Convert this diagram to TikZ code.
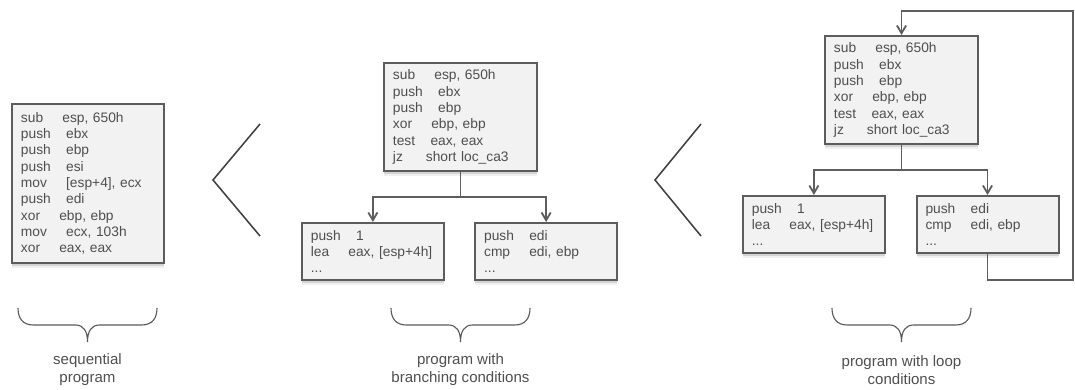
\documentclass[tikz,border=0pt]{standalone}
\usepackage{fontspec}
\setmainfont{Liberation Sans}
\usetikzlibrary{positioning, arrows.meta, shadows}
\definecolor{boxColor}{HTML}{F2F2F2}
\definecolor{boxBorder}{HTML}{5C5C5C}
\definecolor{codeColor}{HTML}{4F4F4F}
\definecolor{lineColor}{HTML}{5E5E5E}

% opcode, a few blanks, operands
\newcommand{\ins}[3]{#2\hspace{#1\fontdimen2\font}#3}
% curly bracket opening upwards, centred on #1
\newcommand{\curly}[1]{%
    \draw[bracket] ({#1-69.5},308) .. controls ({#1-69.5},318) and ({#1-65},325) .. ({#1-54},325)
        -- ({#1-12},325) .. controls ({#1-4},325) and (#1,331) .. (#1,342)
        .. controls (#1,331) and ({#1+4},325) .. ({#1+12},325)
        -- ({#1+54},325) .. controls ({#1+65},325) and ({#1+69.5},318) .. ({#1+69.5},308);}

\begin{document}
\begin{tikzpicture}[
    x=0.025cm, y=-0.025cm,
    every node/.style={text=codeColor},
    codebox/.style={
        draw=boxBorder,
        fill=boxColor,
        line width=1.4pt,
        inner xsep=0.225cm,
        inner ysep=0pt,
        align=left,
        font=\fontsize{9.8}{11.6}\selectfont,
        drop shadow={shadow xshift=0pt, shadow yshift=-3.5pt, opacity=0.12},
        drop shadow={shadow xshift=0pt, shadow yshift=-2pt, opacity=0.25},
    },
    topblock/.style={codebox, text width=3.375cm, minimum height=2.7cm},
    lowblock/.style={codebox, text width=3.1cm, minimum height=1.425cm},
    link/.style={line width=1.3pt, draw=lineColor},
    flow/.style={link, -{Straight Barb[length=5.5pt, width=6.5pt]}},
    chevron/.style={line width=1.1pt, draw=black!75},
    bracket/.style={line width=0.8pt, draw=black!65},
    caption/.style={align=center, font=\fontsize{10.7}{12.8}\selectfont},
]
\useasboundingbox (0,0) rectangle (1075,389);

% straight-line code
\node[codebox, text width=3.35cm, minimum height=3.975cm] (seq) at (88,183.5) {
    \ins{5}{sub}{esp, 650h}\\
    \ins{4}{push}{ebx}\\
    \ins{4}{push}{ebp}\\
    \ins{4}{push}{esi}\\
    \ins{5}{mov}{[esp+4], ecx}\\
    \ins{4}{push}{edi}\\
    \ins{5}{xor}{ebp, ebp}\\
    \ins{5}{mov}{ecx, 103h}\\
    \ins{5}{xor}{eax, eax}
};

% code with a branch
\node[topblock] (brTop) at (460.5,117) {
    \ins{5}{sub}{esp, 650h}\\
    \ins{4}{push}{ebx}\\
    \ins{4}{push}{ebp}\\
    \ins{5}{xor}{ebp, ebp}\\
    \ins{4}{test}{eax, eax}\\
    \ins{6}{jz}{short loc\_ca3}
};

\node[lowblock, below=1.25cm of brTop, xshift=-2.19cm] (brLeft) {
    \ins{4}{push}{1}\\
    \ins{5}{lea}{eax, [esp+4h]}\\
    ...
};

\node[lowblock, below=1.25cm of brTop, xshift=2.14cm] (brRight) {
    \ins{4}{push}{edi}\\
    \ins{5}{cmp}{edi, ebp}\\
    ...
};

% code with a loop
\node[topblock] (lpTop) at (901.5,90) {
    \ins{5}{sub}{esp, 650h}\\
    \ins{4}{push}{ebx}\\
    \ins{4}{push}{ebp}\\
    \ins{5}{xor}{ebp, ebp}\\
    \ins{4}{test}{eax, eax}\\
    \ins{6}{jz}{short loc\_ca3}
};

\node[lowblock, below=1.25cm of lpTop, xshift=-2.19cm] (lpLeft) {
    \ins{4}{push}{1}\\
    \ins{5}{lea}{eax, [esp+4h]}\\
    ...
};

\node[lowblock, below=1.25cm of lpTop, xshift=2.15cm] (lpRight) {
    \ins{4}{push}{edi}\\
    \ins{5}{cmp}{edi, ebp}\\
    ...
};

\coordinate (loopCorner) at (1073,11);

\draw[link] (brTop.south) -- ++(0,25) coordinate (brFork);
\draw[flow] (brFork) -| (brLeft.north);
\draw[flow] (brFork) -| (brRight.north);

\draw[link] (lpTop.south) -- ++(0,25) coordinate (lpFork);
\draw[flow] (lpFork) -| (lpLeft.north);
\draw[flow] (lpFork) -| (lpRight.north);
\draw[flow] (lpRight.south) -- ++(0,26) -| (loopCorner) -| (lpTop.north);

% "less than" marks between the three
\draw[chevron] (260,124) -- (213,180) -- (260,236);
\draw[chevron] (701,124) -- (655,180) -- (701,236);

\curly{87.5}
\curly{460.5}
\curly{901.5}

\node[caption] (seqText) at (87.5,370) {sequential\\program};
\node[caption] (brText) at (460.5,370) {program with\\branching conditions};
\node[caption] (lpText) at (901.5,370) {program with loop\\conditions};

\end{tikzpicture}
\end{document}
